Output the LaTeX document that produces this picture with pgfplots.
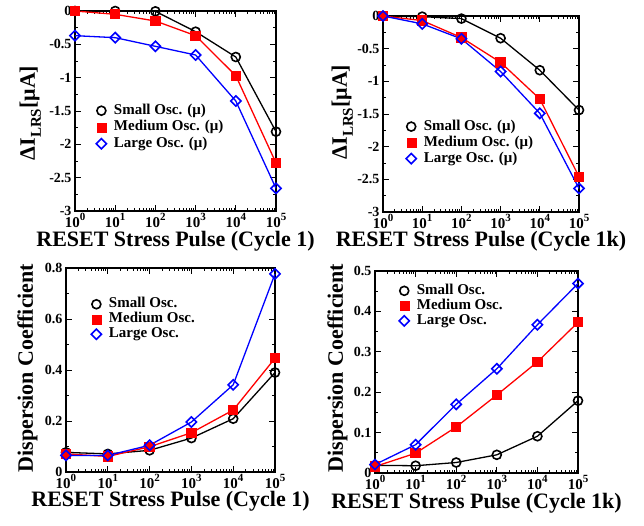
\documentclass[border=0pt]{standalone}
\usepackage{fontspec}
\setmainfont{Liberation Serif}
\usepackage{pgfplots}
\pgfplotsset{compat=1.18}

\newcommand{\xt}[1]{10\raisebox{7pt}{\fontsize{11}{11}\selectfont #1}}
\newcommand{\tf}{\bfseries\fontsize{14}{14}\selectfont}
\newcommand{\xf}{\bfseries\fontsize{15}{15}\selectfont}
\newcommand{\lf}{\bfseries\fontsize{22}{22}\selectfont}

\begin{document}
\begin{tikzpicture}
\path[use as bounding box] (0pt,0pt) rectangle (644pt,525pt);

% Panel 1
\begin{axis}[at={(75pt,314pt)}, anchor=south west, scale only axis, width=201pt, height=200pt,
  xmode=log, xmin=1, xmax=100000, clip=false,
  xtick={1,10,100,1000,10000,100000},
  xticklabels={\xt{0},\xt{1},\xt{2},\xt{3},\xt{4},\xt{5}},
  minor xtick={2,3,4,5,6,7,8,9,20,30,40,50,60,70,80,90,200,300,400,500,600,700,800,900,2000,3000,4000,5000,6000,7000,8000,9000,20000,30000,40000,50000,60000,70000,80000,90000},
  minor y tick num=1,
  axis line style={line width=1.5pt},
  tick style={line width=0.9pt, black},
  major tick length=6pt, minor tick length=3pt,
  /pgf/number format/assume math mode=true,
  yticklabel style={font=\tf}, xticklabel style={font=\xf, inner sep=1pt, yshift=-1pt},
  label style={font=\lf},
  legend cell align=left,
  legend style={draw=none, fill=none, inner sep=0pt, column sep=6.5pt, anchor=north west,
    font=\xf, nodes={inner sep=1pt, text height=10pt, text depth=3pt},
    at={(axis description cs:0.105,0.54)}, row sep=1.5pt},
  ymin=-3, ymax=0, ytick={-3,-2.5,-2,-1.5,-1,-0.5,0},
  xlabel={RESET Stress Pulse (Cycle 1)},
  xlabel style={at={(axis description cs:0.5,-0.18)}, anchor=base},
  ylabel={ΔI\raisebox{-6pt}{\fontsize{15}{15}\selectfont LRS}[μA]},
  ylabel style={at={(axis description cs:-0.199,0.49)}, anchor=base}]
\addlegendimage{only marks, black, mark=o, mark size=4.5pt, mark options={line width=1.6pt}}
\addlegendimage{only marks, red, mark=square*, mark size=4.5pt}
\addlegendimage{only marks, blue, mark=square, mark size=3.6pt, mark options={rotate=45, line width=1.6pt}}
\addplot[black, line width=1.3pt, mark=o, mark size=4.5pt, mark options={line width=1.6pt}] coordinates {(1,0) (10,0) (100,-0.005) (1000,-0.31) (10000,-0.69) (100000,-1.81)};
\addplot[red, line width=1.3pt, mark=square*, mark size=4.5pt] coordinates {(1,0) (10,-0.05) (100,-0.15) (1000,-0.37) (10000,-0.97) (100000,-2.28)};
\addplot[blue, line width=1.3pt, mark=square, mark size=3.6pt, mark options={rotate=45, line width=1.6pt}] coordinates {(1,-0.37) (10,-0.40) (100,-0.53) (1000,-0.66) (10000,-1.35) (100000,-2.66)};
\legend{Small Osc. (μ), Medium Osc. (μ), Large Osc. (μ)}
\end{axis}

% Panel 2
\begin{axis}[at={(383pt,313pt)}, anchor=south west, scale only axis, width=196pt, height=196pt,
  xmode=log, xmin=1, xmax=100000, clip=false,
  xtick={1,10,100,1000,10000,100000},
  xticklabels={\xt{0},\xt{1},\xt{2},\xt{3},\xt{4},\xt{5}},
  minor xtick={2,3,4,5,6,7,8,9,20,30,40,50,60,70,80,90,200,300,400,500,600,700,800,900,2000,3000,4000,5000,6000,7000,8000,9000,20000,30000,40000,50000,60000,70000,80000,90000},
  minor y tick num=1,
  axis line style={line width=1.5pt},
  tick style={line width=0.9pt, black},
  major tick length=6pt, minor tick length=3pt,
  /pgf/number format/assume math mode=true,
  yticklabel style={font=\tf}, xticklabel style={font=\xf, inner sep=1pt, yshift=-1pt},
  label style={font=\lf},
  legend cell align=left,
  legend style={draw=none, fill=none, inner sep=0pt, column sep=6.5pt, anchor=north west,
    font=\xf, nodes={inner sep=1pt, text height=10pt, text depth=3pt},
    at={(axis description cs:0.117,0.475)}, row sep=1pt},
  ymin=-3, ymax=0, ytick={-3,-2.5,-2,-1.5,-1,-0.5,0},
  xlabel={RESET Stress Pulse (Cycle 1k)},
  xlabel style={at={(axis description cs:0.5,-0.176)}, anchor=base},
  ylabel={ΔI\raisebox{-6pt}{\fontsize{15}{15}\selectfont LRS}[μA]},
  ylabel style={at={(axis description cs:-0.184,0.51)}, anchor=base}]
\addlegendimage{only marks, black, mark=o, mark size=4.5pt, mark options={line width=1.6pt}}
\addlegendimage{only marks, red, mark=square*, mark size=4.5pt}
\addlegendimage{only marks, blue, mark=square, mark size=3.6pt, mark options={rotate=45, line width=1.6pt}}
\addplot[black, line width=1.3pt, mark=o, mark size=4.5pt, mark options={line width=1.6pt}] coordinates {(1,0) (10,-0.01) (100,-0.04) (1000,-0.34) (10000,-0.83) (100000,-1.44)};
\addplot[red, line width=1.3pt, mark=square*, mark size=4.5pt] coordinates {(1,0) (10,-0.07) (100,-0.33) (1000,-0.71) (10000,-1.27) (100000,-2.46)};
\addplot[blue, line width=1.3pt, mark=square, mark size=3.6pt, mark options={rotate=45, line width=1.6pt}] coordinates {(1,0) (10,-0.12) (100,-0.35) (1000,-0.85) (10000,-1.49) (100000,-2.64)};
\legend{Small Osc. (μ), Medium Osc. (μ), Large Osc. (μ)}
\end{axis}

% Panel 3
\begin{axis}[at={(66pt,53pt)}, anchor=south west, scale only axis, width=209pt, height=204pt,
  xmode=log, xmin=1, xmax=100000, clip=false,
  xtick={1,10,100,1000,10000,100000},
  xticklabels={\xt{0},\xt{1},\xt{2},\xt{3},\xt{4},\xt{5}},
  minor xtick={2,3,4,5,6,7,8,9,20,30,40,50,60,70,80,90,200,300,400,500,600,700,800,900,2000,3000,4000,5000,6000,7000,8000,9000,20000,30000,40000,50000,60000,70000,80000,90000},
  minor y tick num=1,
  axis line style={line width=1.5pt},
  tick style={line width=0.9pt, black},
  major tick length=6pt, minor tick length=3pt,
  /pgf/number format/assume math mode=true,
  yticklabel style={font=\tf}, xticklabel style={font=\xf, inner sep=1pt, yshift=-1pt},
  label style={font=\lf},
  legend cell align=left,
  legend style={draw=none, fill=none, inner sep=0pt, column sep=6.5pt, anchor=north west,
    font=\xf, nodes={inner sep=1pt, text height=10pt, text depth=3pt},
    at={(axis description cs:0.12,0.86)}, row sep=0pt},
  ymin=0, ymax=0.8, ytick={0,0.2,0.4,0.6,0.8},
  xlabel={RESET Stress Pulse (Cycle 1)},
  xlabel style={at={(axis description cs:0.5,-0.167)}, anchor=base},
  ylabel={Dispersion Coefficient},
  ylabel style={at={(axis description cs:-0.158,0.51)}, anchor=base}]
\addlegendimage{only marks, black, mark=o, mark size=4.5pt, mark options={line width=1.6pt}}
\addlegendimage{only marks, red, mark=square*, mark size=4.5pt}
\addlegendimage{only marks, blue, mark=square, mark size=3.6pt, mark options={rotate=45, line width=1.6pt}}
\addplot[black, line width=1.3pt, mark=o, mark size=4.5pt, mark options={line width=1.6pt}] coordinates {(1,0.077) (10,0.071) (100,0.085) (1000,0.133) (10000,0.209) (100000,0.39)};
\addplot[red, line width=1.3pt, mark=square*, mark size=4.5pt] coordinates {(1,0.071) (10,0.061) (100,0.099) (1000,0.154) (10000,0.243) (100000,0.446)};
\addplot[blue, line width=1.3pt, mark=square, mark size=3.6pt, mark options={rotate=45, line width=1.6pt}] coordinates {(1,0.065) (10,0.065) (100,0.105) (1000,0.196) (10000,0.342) (100000,0.777)};
\legend{Small Osc., Medium Osc., Large Osc.}
\end{axis}

% Panel 4
\begin{axis}[at={(375pt,52pt)}, anchor=south west, scale only axis, width=203pt, height=202pt,
  xmode=log, xmin=1, xmax=100000, clip=false,
  xtick={1,10,100,1000,10000,100000},
  xticklabels={\xt{0},\xt{1},\xt{2},\xt{3},\xt{4},\xt{5}},
  minor xtick={2,3,4,5,6,7,8,9,20,30,40,50,60,70,80,90,200,300,400,500,600,700,800,900,2000,3000,4000,5000,6000,7000,8000,9000,20000,30000,40000,50000,60000,70000,80000,90000},
  minor y tick num=1,
  axis line style={line width=1.5pt},
  tick style={line width=0.9pt, black},
  major tick length=6pt, minor tick length=3pt,
  /pgf/number format/assume math mode=true,
  yticklabel style={font=\tf}, xticklabel style={font=\xf, inner sep=1pt, yshift=-1pt},
  label style={font=\lf},
  legend cell align=left,
  legend style={draw=none, fill=none, inner sep=0pt, column sep=6.5pt, anchor=north west,
    font=\xf, nodes={inner sep=1pt, text height=10pt, text depth=3pt},
    at={(axis description cs:0.118,0.94)}, row sep=0pt},
  ymin=0, ymax=0.5, ytick={0,0.1,0.2,0.3,0.4,0.5},
  xlabel={RESET Stress Pulse (Cycle 1k)},
  xlabel style={at={(axis description cs:0.5,-0.178)}, anchor=base},
  ylabel={Dispersion Coefficient},
  ylabel style={at={(axis description cs:-0.158,0.52)}, anchor=base}]
\addlegendimage{only marks, black, mark=o, mark size=4.5pt, mark options={line width=1.6pt}}
\addlegendimage{only marks, red, mark=square*, mark size=4.5pt}
\addlegendimage{only marks, blue, mark=square, mark size=3.6pt, mark options={rotate=45, line width=1.6pt}}
\addplot[black, line width=1.3pt, mark=o, mark size=4.5pt, mark options={line width=1.6pt}] coordinates {(1,0.019) (10,0.018) (100,0.026) (1000,0.045) (10000,0.091) (100000,0.179)};
\addplot[red, line width=1.3pt, mark=square*, mark size=4.5pt] coordinates {(1,0.016) (10,0.049) (100,0.114) (1000,0.193) (10000,0.275) (100000,0.373)};
\addplot[blue, line width=1.3pt, mark=square, mark size=3.6pt, mark options={rotate=45, line width=1.6pt}] coordinates {(1,0.021) (10,0.070) (100,0.170) (1000,0.258) (10000,0.367) (100000,0.469)};
\legend{Small Osc., Medium Osc., Large Osc.}
\end{axis}
\end{tikzpicture}
\end{document}
